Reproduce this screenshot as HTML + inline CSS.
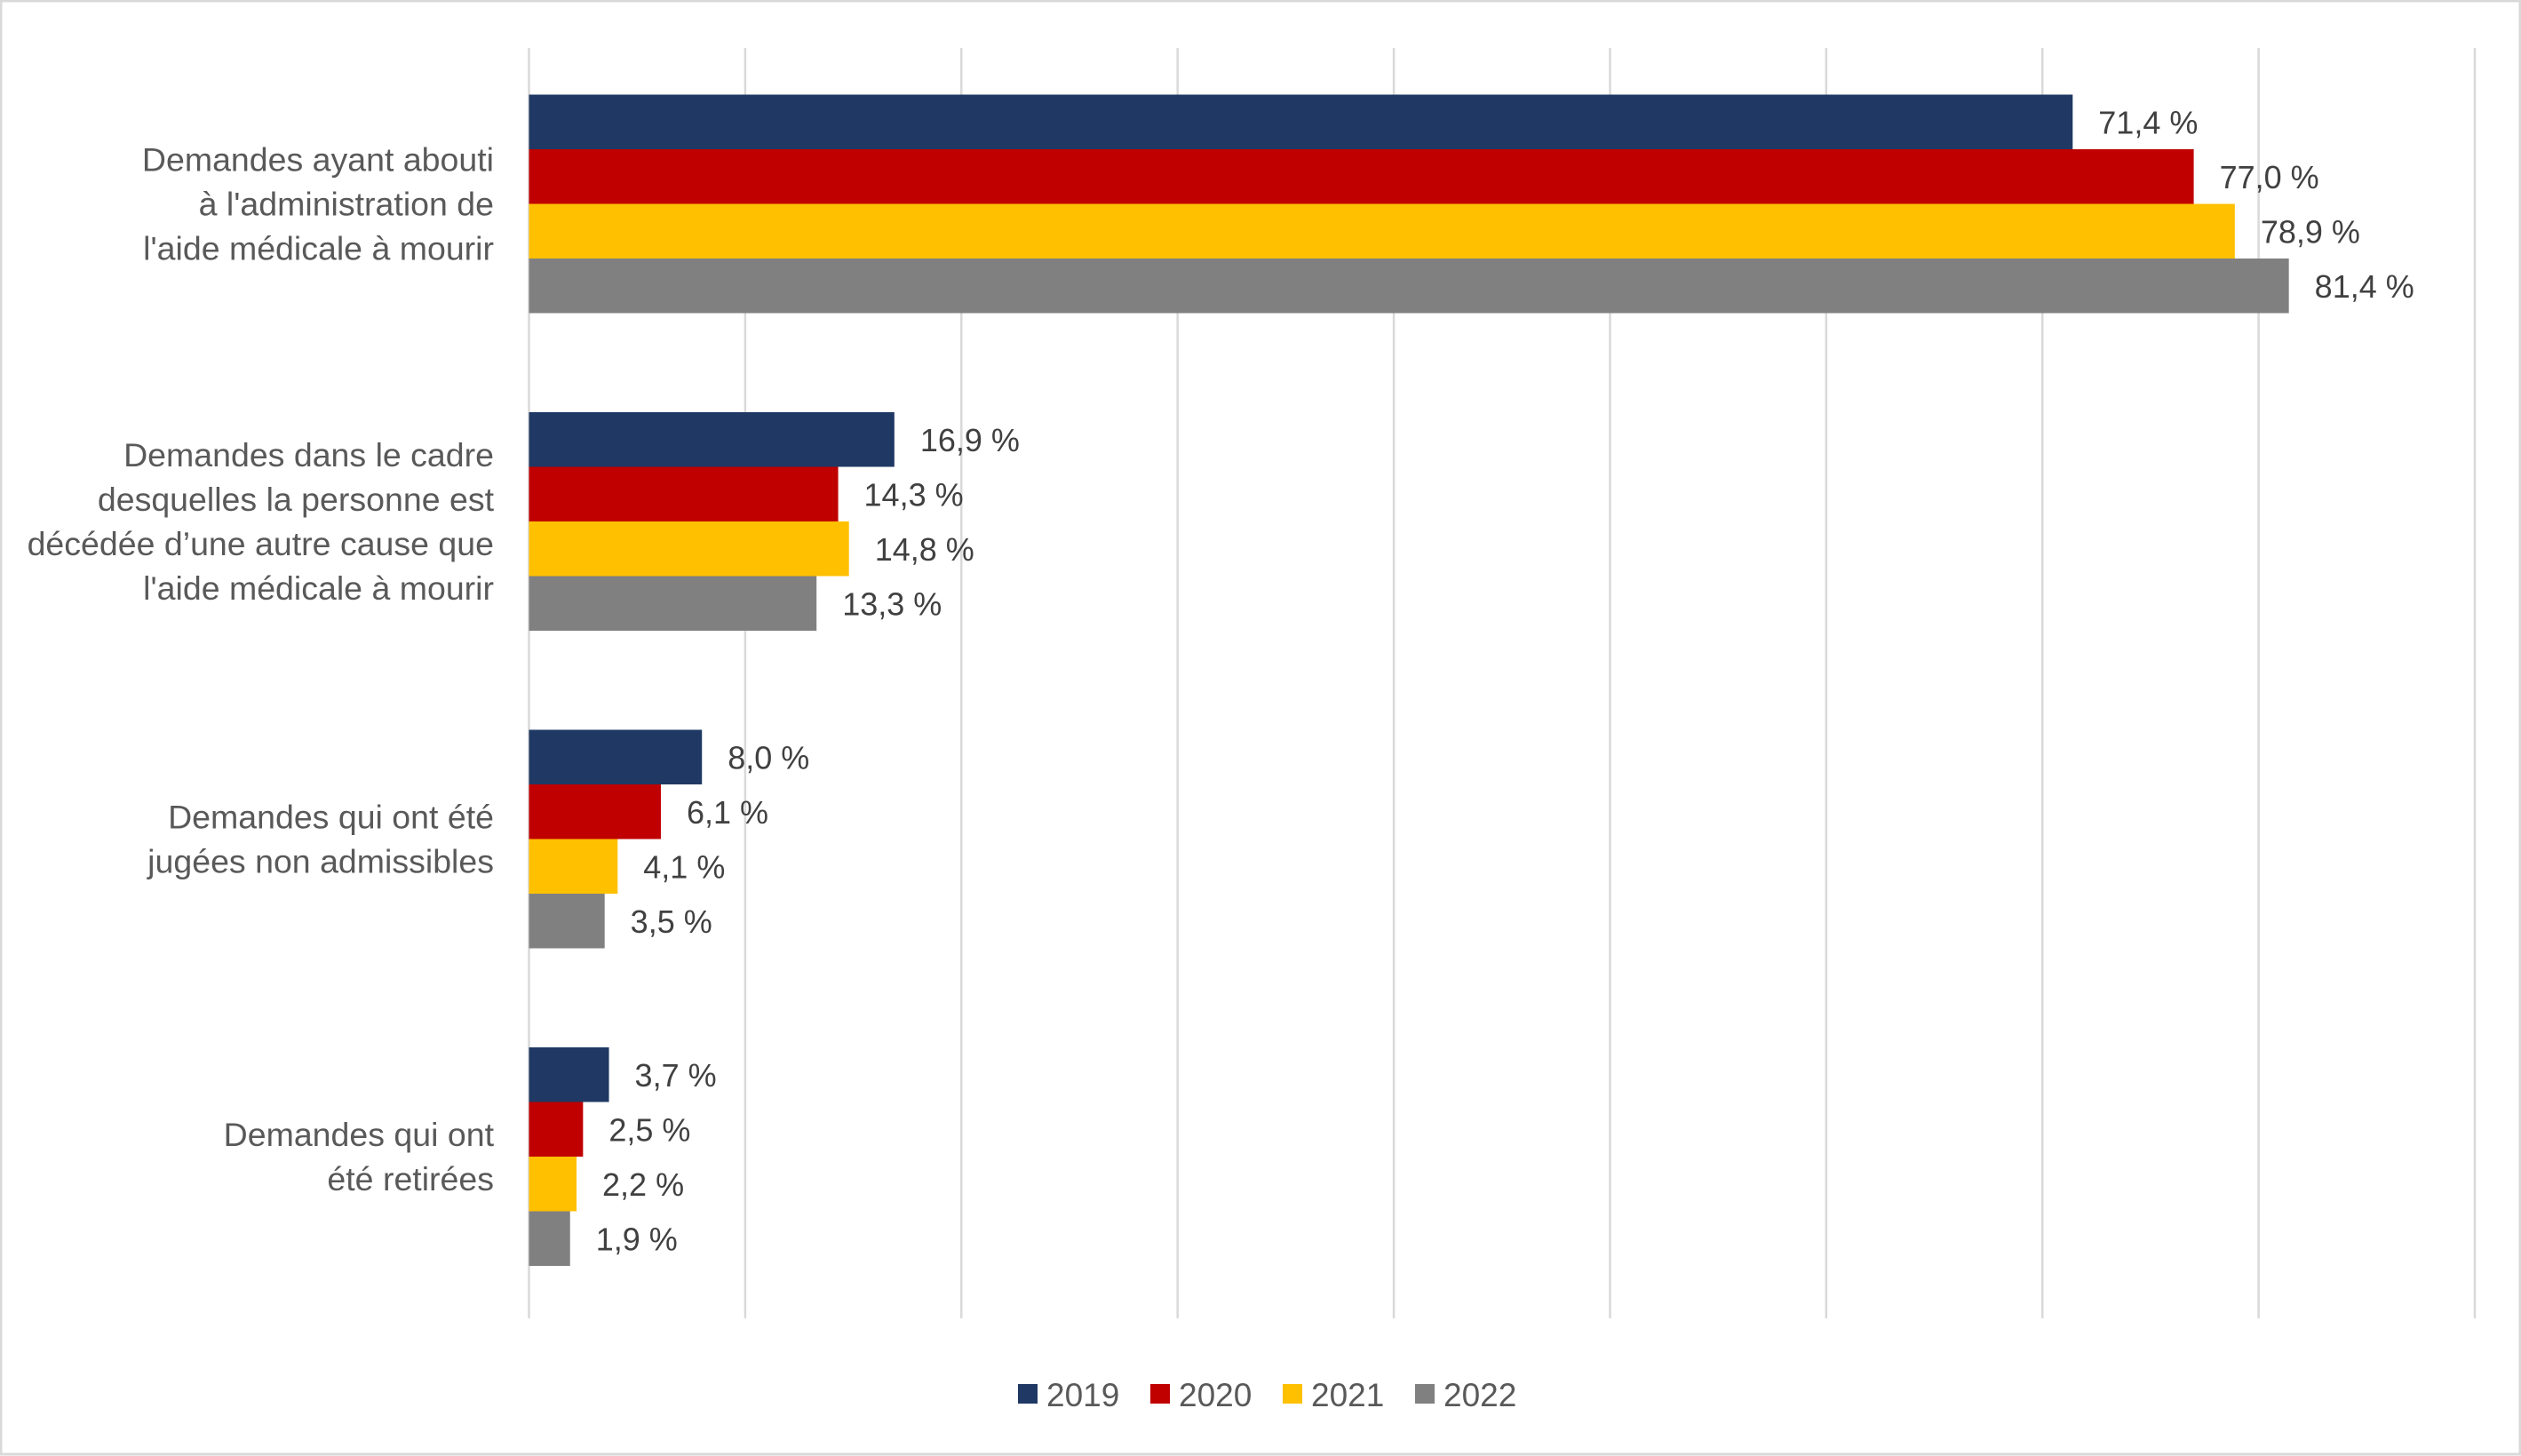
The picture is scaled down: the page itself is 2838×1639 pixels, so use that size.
<!DOCTYPE html>
<html><head><meta charset="utf-8"><style>
body{margin:0;background:#fff}
svg{display:block;font-family:"Liberation Sans",sans-serif}
</style></head><body>
<svg id="c" width="2838" height="1639">
<rect x="1" y="1" width="2836" height="1636" fill="#fff" stroke="#d9d9d9" stroke-width="3"/>
<g id="grid"></g><g id="bars"></g><g id="labels"></g><g id="legend"></g>
</svg>
<script>
const categories=[["Demandes ayant abouti","à l'administration de","l'aide médicale à mourir"],["Demandes dans le cadre","desquelles la personne est","décédée d’une autre cause que","l'aide médicale à mourir"],["Demandes qui ont été","jugées non admissibles"],["Demandes qui ont","été retirées"]];
const series=["2019","2020","2021","2022"];
const v2019=[71.4,16.9,8.0,3.7];
const v2020=[77.0,14.3,6.1,2.5];
const v2021=[78.9,14.8,4.1,2.2];
const v2022=[81.4,13.3,3.5,1.9];
const ticks=[0,10,20,30,40,50,60,70,80,90];
const values=[v2019,v2020,v2021,v2022];
const colors=["#1F3864","#C00000","#FFC000","#808080"];
const NS="http://www.w3.org/2000/svg";
const X0=595.5,X1=2786,Y0=54,Y1=1484;
const x=v=>X0+(v-0)/(90-0)*(X1-X0);
const band=(Y1-Y0)/categories.length,bh=61.5,off=52.5;
function mk(t,a,p){const e=document.createElementNS(NS,t);for(const k in a)e.setAttribute(k,a[k]);p.appendChild(e);return e;}
const g=document.getElementById('grid');
ticks.forEach(t=>{const l=mk('line',{x1:x(t),x2:x(t),y1:Y0,y2:Y1,stroke:'#d9d9d9','stroke-width':2.5},g);

});
const b=document.getElementById('bars'),lb=document.getElementById('labels');
categories.forEach((c,i)=>{
 values.forEach((s,j)=>{
  const y=Y0+i*band+off+j*bh;
  const r=mk('rect',{x:x(0),y:y,width:x(s[i])-x(0),height:bh,fill:colors[j]},b);
  
  
  const t=mk('text',{x:x(s[i])+29,y:y+bh/2+13,'font-size':36,fill:'#404040'},lb);
  t.textContent=s[i].toFixed(1).replace('.',',')+' %';
  
  
 });
 const cy=Y0+i*band+off+2*bh;
 c.forEach((line,k)=>{
  const t=mk('text',{x:556,y:cy+(k-(c.length-1)/2)*50+13,'font-size':37.5,fill:'#595959','text-anchor':'end'},lb);
  t.textContent=line;
  
  
 });
});
const lg=document.getElementById('legend');
series.forEach((s,j)=>{
 const lx=1146+j*149;
 const r=mk('rect',{x:lx,y:1558,width:22,height:22,fill:colors[j]},lg);
 
 
 const t=mk('text',{x:lx+32,y:1583,'font-size':37,fill:'#595959'},lg);
 t.textContent=s;
 
 
});
</script>
</body></html>
